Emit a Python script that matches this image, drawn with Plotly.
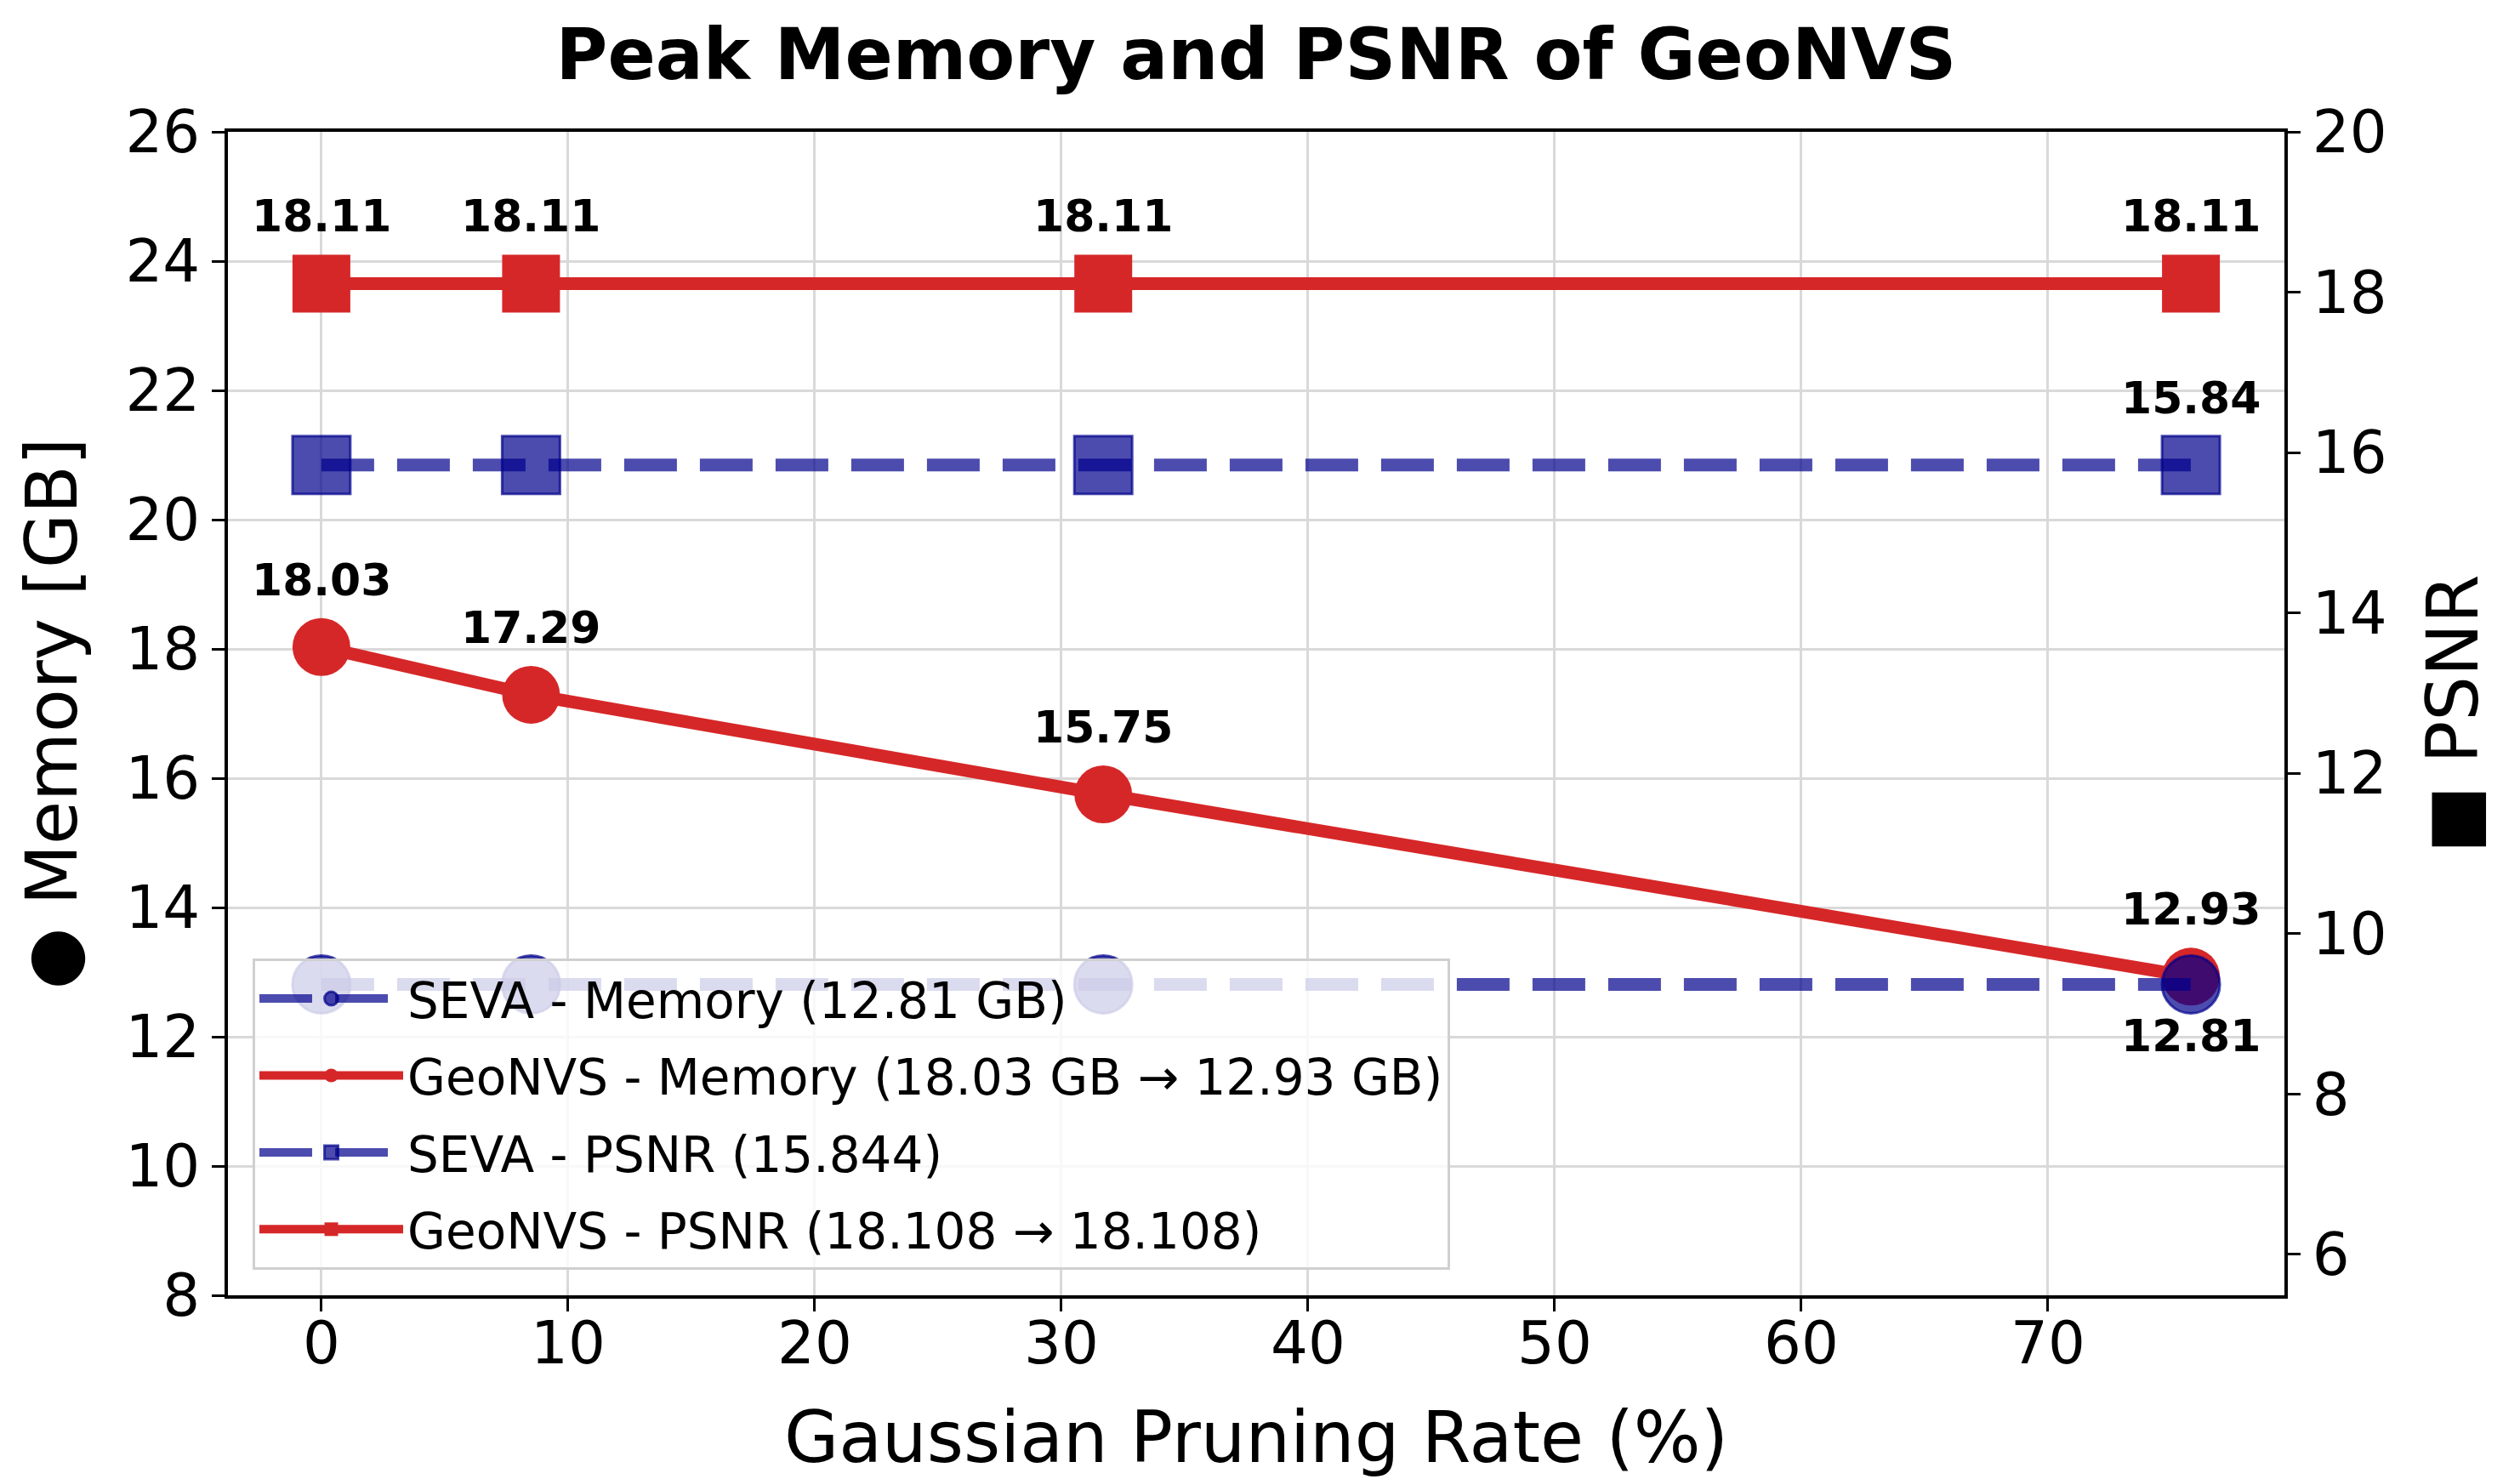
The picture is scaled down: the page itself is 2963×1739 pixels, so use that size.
import plotly.graph_objects as go

# ---- data ----
pruning_rate = [0.0, 8.5, 31.7, 75.8]
seva_memory = [12.81, 12.81, 12.81, 12.81]
geonvs_memory = [18.03, 17.29, 15.75, 12.93]
seva_psnr = [15.844, 15.844, 15.844, 15.844]
geonvs_psnr = [18.108, 18.108, 18.108, 18.108]

x_ticks = [0, 10, 20, 30, 40, 50, 60, 70]
mem_ticks = [8, 10, 12, 14, 16, 18, 20, 22, 24, 26]
psnr_ticks = [6, 8, 10, 12, 14, 16, 18, 20]

names = {
    "seva_mem": "SEVA - Memory (12.81 GB)",
    "geo_mem": "GeoNVS - Memory (18.03 GB → 12.93 GB)",
    "seva_psnr": "SEVA - PSNR (15.844)",
    "geo_psnr": "GeoNVS - PSNR (18.108 → 18.108)",
}

RED = "#d62728"
BLUE_A = "rgba(0,0,139,0.7)"
FONT = "DejaVu Sans"

fig = go.Figure()

# GeoNVS memory (left axis) - added first so SEVA memory sits on top
fig.add_trace(go.Scatter(
    x=pruning_rate, y=geonvs_memory, name=names["geo_mem"], mode="lines+markers",
    line=dict(color=RED, width=15),
    marker=dict(symbol="circle", size=68, color=RED, line=dict(width=0)),
    legendrank=2, legendgroup="g2", yaxis="y",
))
# SEVA memory (left axis)
fig.add_trace(go.Scatter(
    x=pruning_rate, y=seva_memory, name=names["seva_mem"], mode="lines+markers",
    line=dict(color=BLUE_A, width=15, dash="62px,27px"),
    marker=dict(symbol="circle", size=68, color=BLUE_A, line=dict(width=3, color=BLUE_A)),
    legendrank=1, legendgroup="g1", yaxis="y",
))
# SEVA PSNR (right axis)
fig.add_trace(go.Scatter(
    x=pruning_rate, y=seva_psnr, name=names["seva_psnr"], mode="lines+markers",
    line=dict(color=BLUE_A, width=15, dash="62px,27px"),
    marker=dict(symbol="square", size=68, color=BLUE_A, line=dict(width=3, color=BLUE_A)),
    legendrank=3, legendgroup="g3", yaxis="y2",
))
# GeoNVS PSNR (right axis)
fig.add_trace(go.Scatter(
    x=pruning_rate, y=geonvs_psnr, name=names["geo_psnr"], mode="lines+markers",
    line=dict(color=RED, width=15),
    marker=dict(symbol="square", size=68, color=RED, line=dict(width=0)),
    legendrank=4, legendgroup="g4", yaxis="y2",
))

ann_font = dict(family=FONT, size=52, color="black", weight="bold")
annotations = []
for xv, yv in zip(pruning_rate, geonvs_psnr):
    annotations.append(dict(x=xv, y=yv, xref="x", yref="y2", text=f"{yv:.2f}",
                            showarrow=False, yanchor="bottom", yshift=47, font=ann_font))
annotations.append(dict(x=pruning_rate[-1], y=seva_psnr[-1], xref="x", yref="y2",
                        text=f"{seva_psnr[-1]:.2f}", showarrow=False, yanchor="bottom",
                        yshift=47, font=ann_font))
for xv, yv in zip(pruning_rate, geonvs_memory):
    annotations.append(dict(x=xv, y=yv, xref="x", yref="y", text=f"{yv:.2f}",
                            showarrow=False, yanchor="bottom", yshift=47, font=ann_font))
annotations.append(dict(x=pruning_rate[-1], y=seva_memory[-1], xref="x", yref="y",
                        text=f"{seva_memory[-1]:.2f}", showarrow=False, yanchor="top",
                        yshift=-29, font=ann_font))

axis_common = dict(
    showline=True, linecolor="black", linewidth=4,
    ticks="outside", ticklen=15, tickwidth=3, tickcolor="black",
    tickfont=dict(family=FONT, size=69, color="black"),
    zeroline=False, automargin=False,
)

fig.update_layout(
    width=2963, height=1739,
    margin=dict(l=268, r=277, t=155, b=216, pad=0),
    paper_bgcolor="white", plot_bgcolor="white",
    font=dict(family=FONT, color="black"),
    title=dict(text="Peak Memory and PSNR of GeoNVS", x=0.5, xref="paper",
               y=1 - 64 / 1739, yref="container", xanchor="center", yanchor="middle",
               font=dict(family=FONT, size=83, color="black", weight="bold")),
    xaxis=dict(range=[-3.79, 79.59], tickvals=x_ticks, mirror=True,
               showgrid=True, gridcolor="#d9d9d9", gridwidth=3,
               ticklabelstandoff=-22,
               title=dict(text="Gaussian Pruning Rate (%)", standoff=53,
                          font=dict(family=FONT, size=83, color="black")),
               **axis_common),
    yaxis=dict(range=[8, 26], tickvals=mem_ticks,
               showgrid=True, gridcolor="#d9d9d9", gridwidth=3,
               title=dict(text="● Memory [GB]", standoff=30,
                          font=dict(family=FONT, size=83, color="black")),
               **axis_common),
    yaxis2=dict(range=[5.49, 20], tickvals=psnr_ticks, overlaying="y", side="right",
                showgrid=False,
                title=dict(text="■ PSNR", standoff=50,
                           font=dict(family=FONT, size=83, color="black")),
                **axis_common),
    legend=dict(x=0.012, y=0.022, xanchor="left", yanchor="bottom",
                bgcolor="rgba(255,255,255,0.8)", bordercolor="#d0d0d0", borderwidth=3,
                font=dict(family=FONT, size=58, color="black"),
                itemwidth=169, tracegroupgap=12, traceorder="grouped"),
    annotations=annotations,
    showlegend=True,
)

fig.write_html("out.html")
